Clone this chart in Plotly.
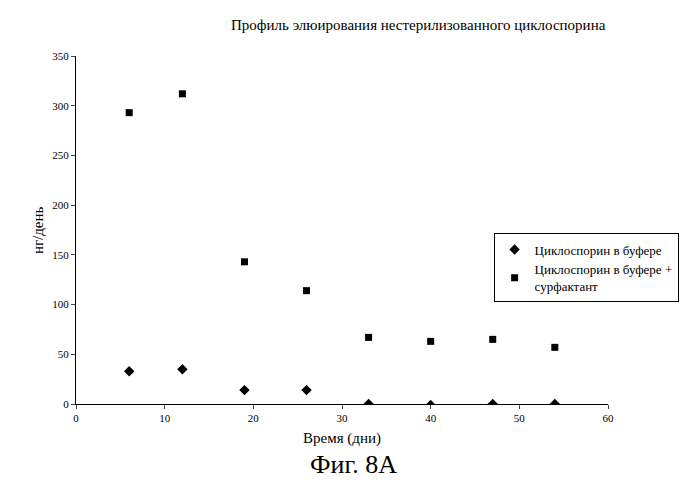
import plotly.graph_objects as go

days = [6, 12, 19, 26, 33, 40, 47, 54]
buffer_vals = [33, 35, 14, 14, 0, -1, 0, 0]
surf_vals = [293, 312, 143, 114, 67, 63, 65, 57]

font = "Liberation Serif"

fig = go.Figure()
fig.add_trace(go.Scatter(x=days, y=buffer_vals, mode="markers",
                         marker=dict(symbol="diamond", size=8, color="black"),
                         name="Циклоспорин в буфере"))
fig.add_trace(go.Scatter(x=days, y=surf_vals, mode="markers",
                         marker=dict(symbol="square", size=7, color="black"),
                         name="Циклоспорин в буфере +<br>сурфактант"))

fig.update_layout(
    width=700, height=490,
    paper_bgcolor="white", plot_bgcolor="white",
    margin=dict(l=68, r=100, t=48, b=94),
    font=dict(family=font, color="black", size=11),
    showlegend=True,
    legend=dict(x=0.785, y=0.49, xref="paper", yref="paper", xanchor="left", yanchor="top",
                bordercolor="black", borderwidth=1, font=dict(size=13, family=font),
                tracegroupgap=0, itemwidth=30),
    xaxis=dict(range=[0, 60], dtick=10, showgrid=False, zeroline=False,
               showline=True, linecolor="black", ticks="outside", ticklen=4,
               tickfont=dict(size=11)),
    yaxis=dict(range=[0, 350], dtick=50, showgrid=False, zeroline=False,
               showline=True, linecolor="black", ticks="outside", ticklen=4,
               tickfont=dict(size=11)),
    annotations=[
        dict(text="Профиль элюирования нестерилизованного циклоспорина",
             x=(410 - 68) / 532, y=(396 - 7) / 348, xref="paper", yref="paper",
             showarrow=False, font=dict(size=15, family=font)),
        dict(text="Время (дни)", x=0.5, y=-0.13, xref="paper", yref="paper",
             showarrow=False, font=dict(size=15, family=font), xanchor="center"),
        dict(text="Фиг. 8А", x=0.522, y=-0.22, xref="paper", yref="paper",
             showarrow=False, font=dict(size=26, family=font), xanchor="center"),
        dict(text="нг/день", x=-0.09, y=0.5, xref="paper", yref="paper",
             showarrow=False, textangle=-90, font=dict(size=15, family=font)),
    ],
)

fig.write_html("out.html")
